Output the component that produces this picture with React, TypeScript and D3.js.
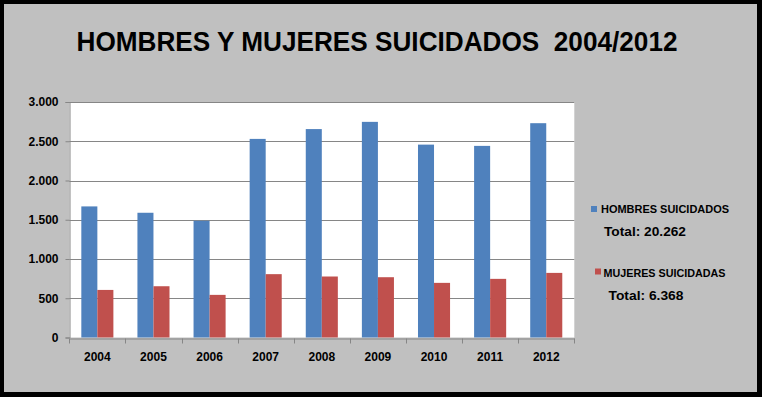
import React, { useEffect, useRef } from 'react';
import * as d3 from 'd3';

const years = ['2004', '2005', '2006', '2007', '2008', '2009', '2010', '2011', '2012'];
const hombres = [1670, 1589, 1487, 2530, 2655, 2747, 2457, 2441, 2730];
const mujeres = [606, 653, 543, 807, 777, 768, 696, 747, 823];
const yTicks = [0, 500, 1000, 1500, 2000, 2500, 3000];
const seriesNames = ['HOMBRES SUICIDADOS', 'MUJERES SUICIDADAS'];
const totals = ['Total: 20.262', 'Total: 6.368'];
const colors = ['#4F81BD', '#C0504D'];

const esLocale = d3.formatLocale({ decimal: ',', thousands: '.', grouping: [3], currency: ['', '€'] });
const fmt = esLocale.format(',d');

export default function App() {
  const ref = useRef<SVGSVGElement>(null);

  useEffect(() => {
    const width = 762;
    const height = 397;
    const margin = { top: 102, left: 69.3, bottom: 59.5, right: 187.7 };

    const svg = d3.select(ref.current);
    svg.selectAll('*').remove();

    // frame
    svg.append('rect').attr('width', width).attr('height', height).attr('fill', '#000');
    svg.append('rect').attr('x', 4).attr('y', 4).attr('width', width - 9).attr('height', height - 9).attr('fill', '#C0C0C0');

    svg.append('text')
      .attr('x', 377).attr('y', 50.5)
      .attr('text-anchor', 'middle')
      .attr('font-family', '"Liberation Sans Narrow", "Liberation Sans", Arial, sans-serif')
      .attr('font-weight', 'bold')
      .attr('font-size', 27)
      .attr('textLength', 601)
      .attr('lengthAdjust', 'spacingAndGlyphs')
      .style('white-space', 'pre')
      .text('HOMBRES Y MUJERES SUICIDADOS  2004/2012');

    const x0 = margin.left;
    const x1 = width - margin.right;
    const y0 = height - margin.bottom;
    const y1 = margin.top;

    const x = d3.scaleBand().domain(years).range([x0, x1]).padding(0);
    const xs = d3.scaleBand().domain(['h', 'm']).range([0, x.bandwidth()]).paddingInner(0).paddingOuter(0.75);
    const y = d3.scaleLinear().domain([0, 3000]).range([y0, y1]);

    svg.append('rect').attr('x', x0).attr('y', y1).attr('width', x1 - x0).attr('height', y0 - y1).attr('fill', '#fff');

    // grid
    svg.append('g').selectAll('line').data(yTicks.filter(d => d > 0)).enter().append('line')
      .attr('x1', x0).attr('x2', x1)
      .attr('y1', d => Math.round(y(d)) + 0.5).attr('y2', d => Math.round(y(d)) + 0.5)
      .attr('stroke', '#868686').attr('stroke-width', 1);

    const g = svg.append('g');
    g.selectAll('rect.h').data(hombres).enter().append('rect')
      .attr('class', 'h')
      .attr('x', (d, i) => (x(years[i]) as number) + (xs('h') as number))
      .attr('y', d => y(d))
      .attr('width', xs.bandwidth())
      .attr('height', d => y0 - y(d))
      .attr('fill', colors[0]);
    g.selectAll('rect.m').data(mujeres).enter().append('rect')
      .attr('class', 'm')
      .attr('x', (d, i) => (x(years[i]) as number) + (xs('m') as number))
      .attr('y', d => y(d))
      .attr('width', xs.bandwidth())
      .attr('height', d => y0 - y(d))
      .attr('fill', colors[1]);

    // y axis
    const yAxis = svg.append('g')
      .attr('transform', `translate(${Math.round(x0) + 0.5},0)`)
      .call(d3.axisLeft(y).tickValues(yTicks).tickFormat(d => fmt(d as number)).tickSize(4).tickPadding(7));
    yAxis.select('.domain').attr('stroke', '#868686');
    yAxis.selectAll('.tick line').attr('stroke', '#868686');
    yAxis.selectAll('text')
      .attr('font-family', '"Liberation Sans", Arial, sans-serif')
      .attr('font-weight', 'bold').attr('font-size', 12).attr('fill', '#000');

    // x axis
    const xAxis = svg.append('g')
      .attr('transform', `translate(0,${Math.round(y0) + 0.5})`)
      .call(d3.axisBottom(x).tickSize(0).tickPadding(14));
    xAxis.select('.domain').attr('stroke', '#868686');
    xAxis.selectAll('text')
      .attr('font-family', '"Liberation Sans", Arial, sans-serif')
      .attr('font-weight', 'bold').attr('font-size', 12).attr('fill', '#000');
    xAxis.selectAll('line.sep').data(years.concat(['end'])).enter().append('line')
      .attr('class', 'sep')
      .attr('x1', (d, i) => Math.round(x0 + i * x.step()) + 0.5)
      .attr('x2', (d, i) => Math.round(x0 + i * x.step()) + 0.5)
      .attr('y1', 0).attr('y2', 5)
      .attr('stroke', '#868686');

    // legend
    const leg = [
      { sx: 591, sy: 206, tx: 601, ty: 212.5, tw: 128, totx: 604, toty: 235.5, totw: 82 },
      { sx: 595, sy: 268.5, tx: 603.5, ty: 276.5, tw: 122, totx: 608.5, toty: 299.5, totw: 75 },
    ];
    leg.forEach((l, i) => {
      svg.append('rect').attr('x', l.sx).attr('y', l.sy).attr('width', 6).attr('height', 6).attr('fill', colors[i]);
      svg.append('text')
        .attr('x', l.tx).attr('y', l.ty)
        .attr('font-family', '"Liberation Sans Narrow", "Liberation Sans", Arial, sans-serif')
        .attr('font-weight', 'bold').attr('font-size', 11)
        .attr('textLength', l.tw).attr('lengthAdjust', 'spacingAndGlyphs')
        .text(seriesNames[i]);
      svg.append('text')
        .attr('x', l.totx).attr('y', l.toty)
        .attr('font-family', '"Liberation Sans", Arial, sans-serif')
        .attr('font-weight', 'bold').attr('font-size', 13.5)
        .attr('textLength', l.totw).attr('lengthAdjust', 'spacingAndGlyphs')
        .text(totals[i]);
    });
  }, []);

  return (
    <svg ref={ref} width={762} height={397} style={{ position: 'absolute', left: 0, top: 0, display: 'block' }} />
  );
}
